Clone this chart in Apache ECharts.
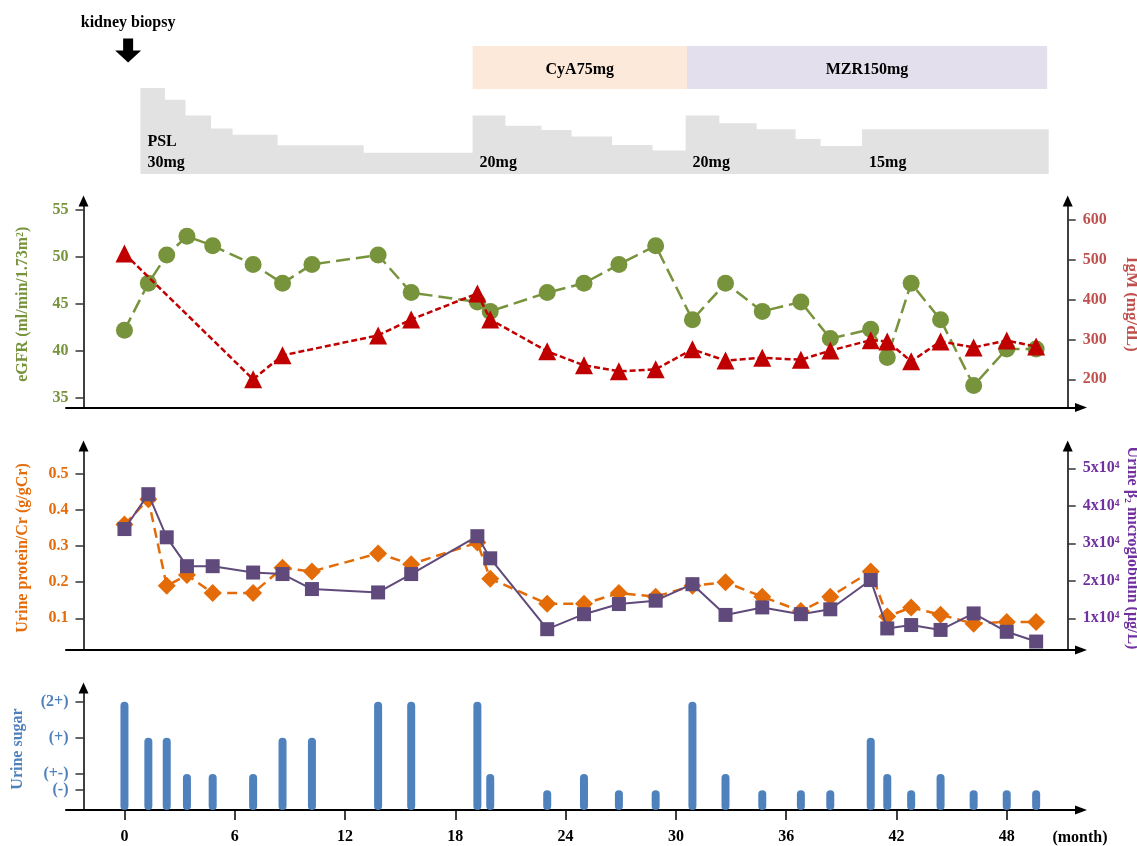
<!DOCTYPE html>
<html>
<head>
<meta charset="utf-8">
<script src="https://cdn.jsdelivr.net/npm/echarts@6/dist/echarts.min.js"></script>
<style>html,body{margin:0;padding:0;background:#fff}#c{width:1137px;height:846px}</style>
</head>
<body>
<div id="c"></div>
<script>
// ---------------- data ----------------
const monthTicks = [0, 6, 12, 18, 24, 30, 36, 42, 48];
const visitMonths = [0, 1.3, 2.3, 3.4, 4.8, 7.0, 8.6, 10.2, 13.8, 15.6, 19.2, 19.9, 23.0, 25.0, 26.9, 28.9, 30.9, 32.7, 34.7, 36.8, 38.4, 40.6, 41.5, 42.8, 44.4, 46.2, 48.0, 49.6];
const egfr = [42.2, 47.2, 50.2, 52.2, 51.2, 49.2, 47.2, 49.2, 50.2, 46.2, 45.2, 44.2, 46.2, 47.2, 49.2, 51.2, 43.3, 47.2, 44.2, 45.2, 41.3, 42.3, 39.3, 47.2, 43.3, 36.3, 40.2, 40.2];
const igm = [515, null, null, null, null, 200, 260, null, 310, 350, 415, 350, 270, 235, 220, 225, 275, 247, 254, 249, 272, 298, 295, 245, 295, 280, 297, 282];
const proteinCr = [0.36, 0.43, 0.19, 0.22, 0.17, 0.17, 0.24, 0.23, 0.28, 0.25, 0.31, 0.21, 0.14, 0.14, 0.17, 0.16, 0.19, 0.20, 0.16, 0.12, 0.16, 0.23, 0.105, 0.13, 0.11, 0.085, 0.09, 0.09];
const beta2mg = [33800, 43100, 31600, 23900, 23900, 22200, 21800, 17800, 16900, 21800, 31900, 26000, 7100, 11100, 13800, 14700, 19100, 10900, 12900, 11100, 12400, 20200, 7300, 8200, 6900, 11300, 6400, 3800];
const urineSugar = ['(2+)', '(+)', '(+)', '(+-)', '(+-)', '(+-)', '(+)', '(+)', '(2+)', '(2+)', '(2+)', '(+-)', '(-)', '(+-)', '(-)', '(-)', '(2+)', '(+-)', '(-)', '(-)', '(-)', '(+)', '(+-)', '(-)', '(+-)', '(-)', '(-)', '(-)'];
const sugarLevelNames = ['(-)', '(+-)', '(+)', '(2+)'];
const sugarLevelValues = [0.55, 1, 2, 3];

const egfrTicks = [35, 40, 45, 50, 55];
const igmTicks = [200, 300, 400, 500, 600];
const proteinTicks = [0.1, 0.2, 0.3, 0.4, 0.5];
const beta2Ticks = [10000, 20000, 30000, 40000, 50000];

const pslStart = [0.87, 2.17, 3.29, 4.68, 5.85, 8.30, 12.98, 18.94, 20.69, 22.66, 24.29, 26.5, 28.7, 30.53, 32.33, 34.36, 36.48, 37.84, 40.13];
const pslFinalEnd = 50.25;
const pslDose = [30, 25.7, 20, 15.3, 13, 9.2, 6.5, 20, 16.3, 14.8, 12.4, 9.3, 7.3, 20, 17.2, 15, 11.5, 9, 15];
const pslLabelMonths = [0.87, 18.94, 30.53, 40.13];
const pslLabelTexts = ['30mg', '20mg', '20mg', '15mg'];
const pslTitle = 'PSL';

const drugNames = ['CyA75mg', 'MZR150mg'];
const drugStart = [18.94, 30.6];
const drugEnd = [30.6, 50.2];

const biopsyMonth = 0.2;

// ---------------- layout / style ----------------
const FONT = '"Liberation Serif", "Times New Roman", serif';
const X_MIN = -3.18, X_MAX = 52.04;
const PSL_MIN = -1.2, PSL_MAX = 30;
const GREEN = '#77933c', RED = '#c00000', RED_TXT = '#c0504d', ORANGE = '#e46c0a', PURPLE = '#604a7b', PURPLE_TXT = '#7030a0', BLUE = '#4f81bd';
const drugColors = ['#fde9d9', '#e4dfec'];

const gridBase = { left: 66, right: 56, containLabel: false, outerBoundsMode: 'none' };
const grids = [
  Object.assign({}, gridBase, { top: 46, height: 43 }),
  Object.assign({}, gridBase, { top: 88, height: 86 }),
  Object.assign({}, gridBase, { top: 38, height: 25 }),
  Object.assign({}, gridBase, { top: 201, bottom: 438.5 }),
  Object.assign({}, gridBase, { top: 446, bottom: 196 }),
  Object.assign({}, gridBase, { top: 688, bottom: 36 })
];

function hiddenX(i) { return { type: 'value', gridIndex: i, min: X_MIN, max: X_MAX, show: false }; }
const xLine = { show: true, onZero: false, symbol: ['none', 'triangle'], symbolSize: [9, 12], lineStyle: { color: '#000', width: 2 } };
const yLine = { show: true, onZero: false, symbol: ['none', 'triangle'], symbolSize: [10, 11], lineStyle: { color: '#000', width: 1.5 } };
const tickStyle = { color: '#333', width: 1.5 };

function valueY(opt) {
  return {
    type: 'value', gridIndex: opt.grid, position: opt.pos, offset: opt.pos === 'left' ? -17.5 : -13.3,
    min: opt.min, max: opt.max,
    axisLine: yLine,
    axisTick: { show: true, customValues: opt.ticks, length: 8, lineStyle: tickStyle },
    axisLabel: { customValues: opt.ticks, margin: 15, color: opt.color, fontFamily: FONT, fontWeight: 'bold', fontSize: 16, formatter: opt.fmt },
    splitLine: { show: false },
    name: opt.name, nameLocation: 'middle', nameRotate: opt.pos === 'left' ? 90 : -90, nameGap: opt.gap,
    nameMoveOverlap: false,
    nameTextStyle: { color: opt.color, fontFamily: FONT, fontWeight: 'bold', fontSize: opt.nameSize || 16 }
  };
}

const option = {
  animation: false,
  backgroundColor: '#fff',
  grid: grids,
  xAxis: [
    hiddenX(0), hiddenX(1), hiddenX(2),
    { type: 'value', gridIndex: 3, min: X_MIN, max: X_MAX, axisLine: xLine, axisTick: { show: false }, axisLabel: { show: false }, splitLine: { show: false } },
    { type: 'value', gridIndex: 4, min: X_MIN, max: X_MAX, axisLine: xLine, axisTick: { show: false }, axisLabel: { show: false }, splitLine: { show: false } },
    {
      type: 'value', gridIndex: 5, min: X_MIN, max: X_MAX, axisLine: xLine,
      axisTick: { show: true, customValues: monthTicks, length: 10, lineStyle: { color: '#000', width: 1.5 } },
      axisLabel: { customValues: monthTicks, margin: 19, color: '#000', fontFamily: FONT, fontWeight: 'bold', fontSize: 16 },
      splitLine: { show: false },
      name: '(month)', nameLocation: 'end', nameGap: -1, nameMoveOverlap: false,
      nameTextStyle: { color: '#000', fontFamily: FONT, fontWeight: 'bold', fontSize: 16, align: 'center', verticalAlign: 'top', padding: [20, 0, 0, 0] }
    }
  ],
  yAxis: [
    { type: 'value', gridIndex: 0, min: 0, max: 1, show: false },
    { type: 'value', gridIndex: 1, min: PSL_MIN, max: PSL_MAX, show: false },
    { type: 'value', gridIndex: 2, min: 0, max: 1, show: false },
    valueY({ grid: 3, pos: 'left', min: 33.96, max: 55.96, ticks: egfrTicks, color: GREEN, name: 'eGFR (ml/min/1.73m\u00b2)', gap: 53 }),
    valueY({ grid: 3, pos: 'right', min: 129.3, max: 646.9, ticks: igmTicks, color: RED_TXT, name: 'IgM (mg/dL)', gap: 55, nameSize: 17 }),
    valueY({ grid: 4, pos: 'left', min: 0.012, max: 0.578, ticks: proteinTicks, color: ORANGE, name: 'Urine protein/Cr (g/gCr)', gap: 53 }),
    valueY({ grid: 4, pos: 'right', min: 1547, max: 55950, ticks: beta2Ticks, color: PURPLE_TXT, name: 'Urine \u03b2\u2082 microglobulin (\u03bcg/L)', gap: 56, fmt: v => (v / 10000) + 'x10\u2074' }),
    valueY({ grid: 5, pos: 'left', min: 0, max: 3.38, ticks: sugarLevelValues, color: BLUE, name: 'Urine sugar', gap: 58, fmt: v => sugarLevelNames[sugarLevelValues.indexOf(v)] })
  ],
  series: [
    {
      type: 'custom', xAxisIndex: 0, yAxisIndex: 0,
      data: drugStart.map((s, i) => [s, drugEnd[i]]),
      encode: { x: [0, 1] },
      renderItem: function (params, api) {
        const p0 = api.coord([api.value(0), 1]);
        const p1 = api.coord([api.value(1), 0]);
        const i = params.dataIndex;
        return {
          type: 'group', children: [
            { type: 'rect', shape: { x: p0[0], y: p0[1], width: p1[0] - p0[0], height: p1[1] - p0[1] }, style: { fill: drugColors[i] } },
            { type: 'text', x: (p0[0] + p1[0]) / 2, y: (p0[1] + p1[1]) / 2 + 2, style: { text: drugNames[i], fill: '#000', font: 'bold 16px ' + FONT, align: 'center', verticalAlign: 'middle' } }
          ]
        };
      }
    },
    {
      type: 'custom', xAxisIndex: 1, yAxisIndex: 1,
      data: pslStart.map((s, i) => [s, i + 1 < pslStart.length ? pslStart[i + 1] : pslFinalEnd, pslDose[i]]),
      encode: { x: [0, 1], y: 2 },
      renderItem: function (params, api) {
        const p0 = api.coord([api.value(0), api.value(2)]);
        const p1 = api.coord([api.value(1), PSL_MIN]);
        return { type: 'rect', shape: { x: p0[0], y: p0[1], width: p1[0] - p0[0] + 0.6, height: p1[1] - p0[1] }, style: { fill: '#e2e2e2' } };
      }
    },
    {
      type: 'custom', xAxisIndex: 1, yAxisIndex: 1, z: 5,
      data: pslLabelMonths.map(m => [m, PSL_MIN]),
      renderItem: function (params, api) {
        const p = api.coord([api.value(0), api.value(1)]);
        const st = t => ({ text: t, fill: '#000', font: 'bold 16px ' + FONT, align: 'left', verticalAlign: 'middle' });
        const ch = [{ type: 'text', x: p[0] + 7, y: p[1] - 11, style: st(pslLabelTexts[params.dataIndex]) }];
        if (params.dataIndex === 0) ch.push({ type: 'text', x: p[0] + 7, y: p[1] - 32, style: st(pslTitle) });
        return { type: 'group', children: ch };
      }
    },
    {
      type: 'scatter', xAxisIndex: 2, yAxisIndex: 2,
      data: [[biopsyMonth, 0.5]],
      symbol: 'path://M8,0 L18,0 L18,12 L26,12 L13,24 L0,12 L8,12 Z',
      symbolSize: [26, 24],
      itemStyle: { color: '#000', opacity: 1 },
      label: { show: true, position: 'top', distance: 8, formatter: 'kidney biopsy', color: '#000', fontFamily: FONT, fontWeight: 'bold', fontSize: 16 }
    },
    {
      type: 'line', xAxisIndex: 3, yAxisIndex: 3, z: 3,
      data: visitMonths.map((m, i) => [m, egfr[i]]),
      symbol: 'circle', symbolSize: 17,
      lineStyle: { color: GREEN, width: 2.5, type: [14, 6] },
      itemStyle: { color: GREEN }
    },
    {
      type: 'line', xAxisIndex: 3, yAxisIndex: 4, z: 4,
      data: visitMonths.map((m, i) => [m, igm[i]]).filter(d => d[1] !== null),
      symbol: 'triangle', symbolSize: 18,
      lineStyle: { color: RED, width: 2.5, type: [6, 3] },
      itemStyle: { color: RED }
    },
    {
      type: 'line', xAxisIndex: 4, yAxisIndex: 5, z: 3,
      data: visitMonths.map((m, i) => [m, proteinCr[i]]),
      symbol: 'diamond', symbolSize: 18,
      lineStyle: { color: '#e36c09', width: 2.5, type: [10, 6] },
      itemStyle: { color: '#e36c09' }
    },
    {
      type: 'line', xAxisIndex: 4, yAxisIndex: 6, z: 4,
      data: visitMonths.map((m, i) => [m, beta2mg[i]]),
      symbol: 'rect', symbolSize: 14,
      lineStyle: { color: PURPLE, width: 2 },
      itemStyle: { color: PURPLE }
    },
    {
      type: 'bar', xAxisIndex: 5, yAxisIndex: 7,
      data: visitMonths.map((m, i) => [m, sugarLevelValues[sugarLevelNames.indexOf(urineSugar[i])]]),
      barWidth: 8,
      itemStyle: { color: BLUE, borderRadius: 4 }
    }
  ]
};

const chart = echarts.init(document.getElementById('c'));
chart.setOption(option);
</script>
</body>
</html>
